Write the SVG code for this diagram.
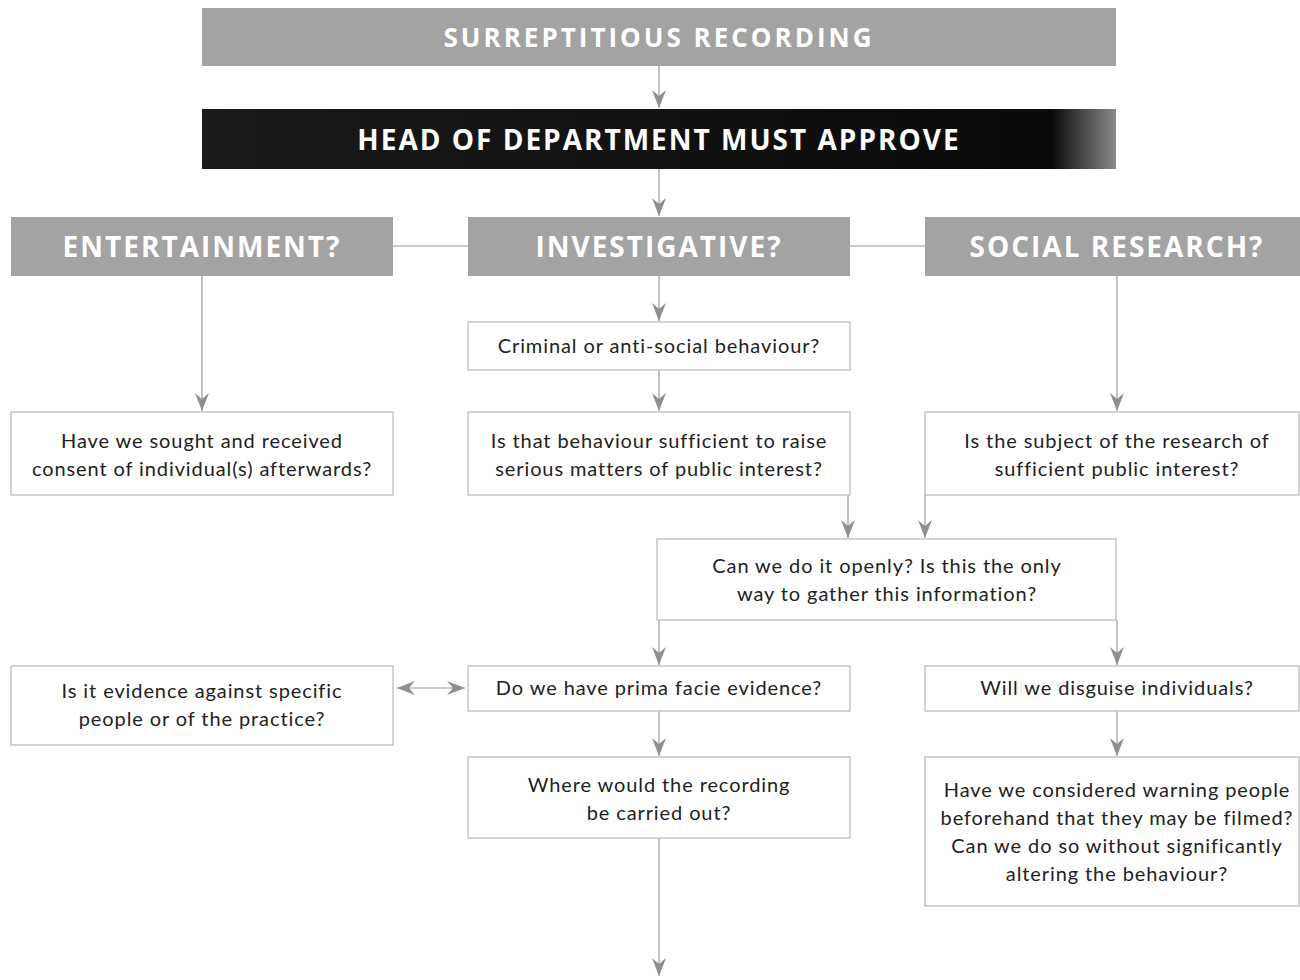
<svg xmlns="http://www.w3.org/2000/svg" width="1300" height="980" viewBox="0 0 1300 980">
<defs>
<style>
.box{fill:#fff;stroke:#b8b8b8;stroke-width:1.2}
.hdr{fill:#a3a3a3}
.t{font-family:Lato,"Open Sans","Liberation Sans",sans-serif;font-size:20px;letter-spacing:0.9px;fill:#222;text-anchor:middle}
.h{font-family:"Open Sans",Lato,"Liberation Sans",sans-serif;font-weight:bold;fill:#fff;text-anchor:middle}
.c{stroke:#9a9a9a;stroke-width:1.2;fill:none}
</style>
<marker id="ah" viewBox="0 0 18 14" refX="18" refY="7" markerWidth="18" markerHeight="14" markerUnits="userSpaceOnUse" orient="auto-start-reverse">
<path d="M0,0 L6,7 L0,14 L18,7 Z" fill="#8f8f8f"/>
</marker>
<linearGradient id="dk" x1="0" y1="0" x2="1" y2="0">
<stop offset="0" stop-color="#1a1a1a"/>
<stop offset="0.93" stop-color="#0a0a0a"/>
<stop offset="1" stop-color="#8a8a8a"/>
</linearGradient>
</defs>
<g id="connectors">
<line class="c" x1="659" y1="66" x2="659" y2="108" marker-end="url(#ah)"/>
<line class="c" x1="659" y1="169" x2="659" y2="216" marker-end="url(#ah)"/>
<line class="c" x1="393" y1="246" x2="468" y2="246"/>
<line class="c" x1="850" y1="246" x2="925" y2="246"/>
<line class="c" x1="202" y1="276" x2="202" y2="411" marker-end="url(#ah)"/>
<line class="c" x1="659" y1="276" x2="659" y2="321" marker-end="url(#ah)"/>
<line class="c" x1="659" y1="370" x2="659" y2="411" marker-end="url(#ah)"/>
<line class="c" x1="1117" y1="276" x2="1117" y2="411" marker-end="url(#ah)"/>
<line class="c" x1="848" y1="495" x2="848" y2="538" marker-end="url(#ah)"/>
<line class="c" x1="925" y1="495" x2="925" y2="538" marker-end="url(#ah)"/>
<line class="c" x1="659" y1="620" x2="659" y2="665" marker-end="url(#ah)"/>
<line class="c" x1="1117" y1="620" x2="1117" y2="665" marker-end="url(#ah)"/>
<line class="c" x1="397" y1="688" x2="465" y2="688" marker-start="url(#ah)" marker-end="url(#ah)"/>
<line class="c" x1="659" y1="711" x2="659" y2="756" marker-end="url(#ah)"/>
<line class="c" x1="1117" y1="711" x2="1117" y2="756" marker-end="url(#ah)"/>
<line class="c" x1="659" y1="838" x2="659" y2="976" marker-end="url(#ah)"/>
</g>
<g id="n-surreptitious">
<rect class="hdr" x="202" y="8" width="914" height="58"/>
<text class="h" x="659" y="47" font-size="26" letter-spacing="3">SURREPTITIOUS RECORDING</text>
</g>
<g id="n-head">
<rect x="202" y="109" width="914" height="60" fill="url(#dk)"/>
<text class="h" x="659" y="150" font-size="28" letter-spacing="2">HEAD OF DEPARTMENT MUST APPROVE</text>
</g>
<g id="n-entertainment">
<rect class="hdr" x="11" y="217" width="382" height="59"/>
<text class="h" x="202" y="257" font-size="28" letter-spacing="2">ENTERTAINMENT?</text>
</g>
<g id="n-investigative">
<rect class="hdr" x="468" y="217" width="382" height="59"/>
<text class="h" x="659" y="257" font-size="28" letter-spacing="2">INVESTIGATIVE?</text>
</g>
<g id="n-social">
<rect class="hdr" x="925" y="217" width="375" height="59"/>
<text class="h" x="1117" y="257" font-size="28" letter-spacing="2">SOCIAL RESEARCH?</text>
</g>
<g id="n-consent">
<rect class="box" x="11" y="412" width="382" height="83"/>
<text class="t" x="202" y="448">Have we sought and received</text>
<text class="t" x="202" y="476">consent of individual(s) afterwards?</text>
</g>
<g id="n-criminal">
<rect class="box" x="468" y="322" width="382" height="48"/>
<text class="t" x="659" y="353">Criminal or anti-social behaviour?</text>
</g>
<g id="n-sufficient">
<rect class="box" x="468" y="412" width="382" height="83"/>
<text class="t" x="659" y="448">Is that behaviour sufficient to raise</text>
<text class="t" x="659" y="476">serious matters of public interest?</text>
</g>
<g id="n-subject">
<rect class="box" x="925" y="412" width="374" height="83"/>
<text class="t" x="1117" y="448">Is the subject of the research of</text>
<text class="t" x="1117" y="476">sufficient public interest?</text>
</g>
<g id="n-openly">
<rect class="box" x="657" y="539" width="459" height="81"/>
<text class="t" x="887" y="573">Can we do it openly? Is this the only</text>
<text class="t" x="887" y="601">way to gather this information?</text>
</g>
<g id="n-evidence-against">
<rect class="box" x="11" y="666" width="382" height="79"/>
<text class="t" x="202" y="698">Is it evidence against specific</text>
<text class="t" x="202" y="726">people or of the practice?</text>
</g>
<g id="n-prima-facie">
<rect class="box" x="468" y="666" width="382" height="45"/>
<text class="t" x="659" y="695">Do we have prima facie evidence?</text>
</g>
<g id="n-disguise">
<rect class="box" x="925" y="666" width="374" height="45"/>
<text class="t" x="1117" y="695">Will we disguise individuals?</text>
</g>
<g id="n-where">
<rect class="box" x="468" y="757" width="382" height="81"/>
<text class="t" x="659" y="792">Where would the recording</text>
<text class="t" x="659" y="820">be carried out?</text>
</g>
<g id="n-warning">
<rect class="box" x="925" y="757" width="374" height="149"/>
<text class="t" x="1117" y="797">Have we considered warning people</text>
<text class="t" x="1117" y="825">beforehand that they may be filmed?</text>
<text class="t" x="1117" y="853">Can we do so without significantly</text>
<text class="t" x="1117" y="881">altering the behaviour?</text>
</g>
</svg>
